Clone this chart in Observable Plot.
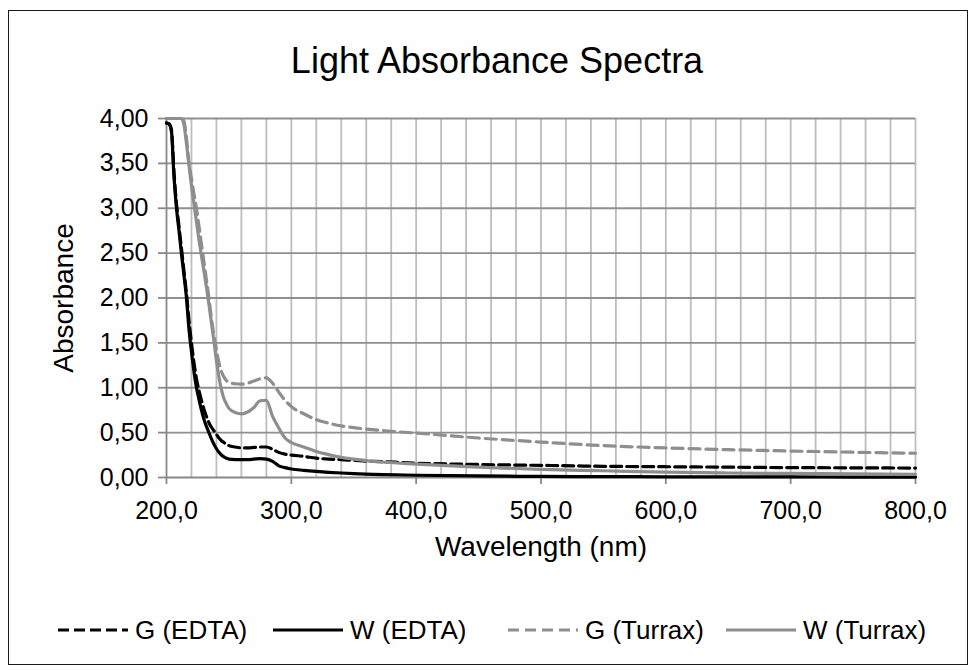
<!DOCTYPE html>
<html><head><meta charset="utf-8">
<script src="https://cdn.jsdelivr.net/npm/d3@7"></script>
<script src="https://cdn.jsdelivr.net/npm/@observablehq/plot@0.6"></script>
<style>
body{margin:0;background:#fff;font-family:"Liberation Sans",Arial,sans-serif;}
#wrap{position:relative;width:973px;height:670px;overflow:hidden;background:#fff;}
#frame{position:absolute;left:8px;top:10px;width:960px;height:655px;border:1.5px solid #1a1a1a;box-sizing:border-box;}
#title{position:absolute;left:0;width:994px;top:43px;text-align:center;font-size:36px;line-height:36px;color:#000;}
#chart{position:absolute;left:0;top:0;}
#legend{position:absolute;left:0;top:617px;width:973px;height:30px;font-size:26px;line-height:26px;color:#000;}
.item{position:absolute;top:0;display:flex;align-items:center;white-space:nowrap;}
.item svg{margin-right:6px;}
</style></head>
<body><div id="wrap"><div id="frame"></div><div id="title">Light Absorbance Spectra</div><div id="chart"></div><div id="legend"></div></div>
<script>
// ---- data ----
const wavelength = [200,202,204,206,208,210,212,214,216,218,220,222,224,226,228,230,232,234,236,238,240,242,244,246,248,250,255,260,265,270,275,280,285,290,295,300,310,320,330,340,350,375,400,450,500,550,600,650,700,750,800];
const gEDTA   = [3.95,3.94,3.87,3.40,3.05,2.80,2.55,2.30,2.05,1.75,1.50,1.28,1.10,0.97,0.86,0.76,0.68,0.61,0.56,0.52,0.48,0.44,0.41,0.39,0.37,0.355,0.34,0.33,0.33,0.335,0.34,0.34,0.315,0.28,0.26,0.25,0.235,0.215,0.205,0.20,0.19,0.175,0.16,0.145,0.135,0.125,0.12,0.115,0.11,0.108,0.105];
const wEDTA   = [3.95,3.94,3.85,3.35,3.00,2.75,2.49,2.25,2.00,1.65,1.40,1.18,1.00,0.87,0.75,0.65,0.57,0.50,0.43,0.37,0.32,0.28,0.25,0.23,0.215,0.205,0.20,0.20,0.20,0.205,0.21,0.205,0.18,0.13,0.11,0.095,0.08,0.068,0.058,0.05,0.043,0.032,0.025,0.017,0.012,0.01,0.008,0.007,0.006,0.005,0.005];
const gTurrax = [4.0,4.0,4.0,4.0,4.0,4.0,4.0,3.97,3.78,3.50,3.33,3.16,3.00,2.80,2.60,2.40,2.20,2.00,1.77,1.58,1.42,1.28,1.18,1.12,1.08,1.06,1.045,1.04,1.05,1.075,1.10,1.11,1.05,0.95,0.86,0.79,0.71,0.645,0.605,0.575,0.555,0.52,0.495,0.44,0.395,0.355,0.33,0.31,0.295,0.282,0.27];
const wTurrax = [4.0,4.0,4.0,4.0,4.0,4.0,4.0,3.93,3.72,3.48,3.25,3.05,2.85,2.65,2.47,2.30,2.12,1.93,1.72,1.52,1.30,1.12,0.98,0.88,0.82,0.77,0.725,0.71,0.73,0.78,0.855,0.86,0.68,0.55,0.44,0.39,0.34,0.29,0.255,0.225,0.205,0.17,0.15,0.115,0.09,0.075,0.06,0.05,0.045,0.04,0.035];
const seriesNames = ["G (EDTA)","W (EDTA)","G (Turrax)","W (Turrax)"];
const xTicks = [200,300,400,500,600,700,800];
const xGrid = [220,240,260,280,300,320,340,360,380,400,420,440,460,480,500,520,540,560,580,600,620,640,660,680,700,720,740,760,780,800];
const yTicks = [0,0.5,1,1.5,2,2.5,3,3.5,4];

// ---- styles ----
const seriesValues = [gEDTA, wEDTA, gTurrax, wTurrax];
const styles = [
  {stroke:"#000000", dash:"11,5", width:3.2},
  {stroke:"#000000", dash:null, width:3.2},
  {stroke:"#8e8e8e", dash:"11,6", width:3.2},
  {stroke:"#8e8e8e", dash:null, width:3.2}
];
const legendLeft = [57, 272, 507, 725];

const rows = [];
seriesNames.forEach((name, s) => {
  wavelength.forEach((w, i) => rows.push({series:name, w, a:seriesValues[s][i]}));
});

const comma = (d, n) => d.toFixed(n).replace(".", ",");

const lineMarks = seriesNames.map((name, s) =>
  Plot.line(rows.filter(r => r.series === name), {
    x:"w", y:"a", stroke: styles[s].stroke, strokeWidth: styles[s].width,
    strokeDasharray: styles[s].dash || undefined, curve:"monotone-x",
    strokeLinejoin:"round"
  })
);

const chart = Plot.plot({
  width: 973, height: 570,
  marginLeft: 166, marginRight: 58, marginTop: 118, marginBottom: 93,
  style: {fontSize:"25px", fontFamily:"'Liberation Sans', Arial, sans-serif", background:"transparent", color:"#000", overflow:"visible"},
  x: {domain:[200,800], label:null},
  y: {domain:[0,4], label:null},
  marks: [
    Plot.ruleX(xGrid, {stroke:"#bdbdbd", strokeWidth:1.8}),
    Plot.ruleY(yTicks.filter(d => d > 0), {stroke:"#8f8f8f", strokeWidth:1.8}),
    Plot.ruleX([200], {stroke:"#888", strokeWidth:1.8}),
    Plot.ruleY([0], {stroke:"#888", strokeWidth:1.8}),
    Plot.axisX({ticks:xTicks, tickFormat:d => comma(d,1), tickSize:7, tickPadding:17, stroke:"#888", strokeWidth:1.8, label:null}),
    Plot.axisY({ticks:yTicks, tickFormat:d => comma(d,2), tickSize:8, tickPadding:10, stroke:"#888", strokeWidth:1.8, label:null}),
    ...lineMarks,
    Plot.text(["Wavelength (nm)"], {frameAnchor:"bottom", lineAnchor:"middle", textAnchor:"middle", dy:70, fontSize:28, fill:"#000"}),
    Plot.text(["Absorbance"], {frameAnchor:"left", lineAnchor:"middle", textAnchor:"middle", dx:-102, rotate:-90, fontSize:28, fill:"#000"})
  ]
});
document.getElementById("chart").appendChild(chart);

// ---- legend ----
const legend = document.getElementById("legend");
seriesNames.forEach((name, s) => {
  const item = document.createElement("div");
  item.className = "item";
  item.style.left = legendLeft[s] + "px";
  const st = styles[s];
  item.innerHTML = `<svg width="72" height="10"><line x1="1" x2="71" y1="5" y2="5" stroke="${st.stroke}" stroke-width="${st.width}" ${st.dash ? `stroke-dasharray="${st.dash}"` : ""}/></svg><span>${name}</span>`;
  legend.appendChild(item);
});
</script>
</body></html>
